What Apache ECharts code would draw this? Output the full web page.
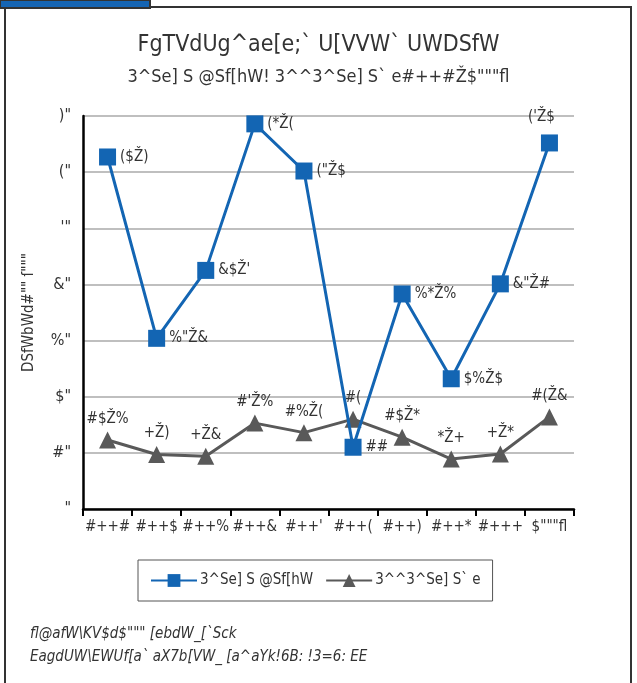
<!DOCTYPE html>
<html>
<head>
<meta charset="utf-8">
<script src="https://cdn.jsdelivr.net/npm/echarts@6/dist/echarts.min.js"></script>
<style>html,body{margin:0;padding:0;background:#fff}#c{width:637px;height:683px}</style>
</head>
<body>
<div id="c"></div>
<script>
// Data (text reproduced exactly as it appears in the reference glyph set)
var categories = ['1991','1992','1993','1994','1995','1996','1997','1998','1999','2000*'];
var alaskaNative = [62.7, 30.4, 42.5, 68.6, 60.2, 11, 38.3, 23.2, 40.1, 65.2];
var allAlaskans = [12.3, 9.7, 9.4, 15.3, 13.6, 16, 12.8, 8.9, 9.8, 16.4];
var yTicks = [0, 10, 20, 30, 40, 50, 60, 70];
var seriesNames = ['3^Se] S @Sf[hW', '3^^3^Se] S` e'];
var titleText = 'FgTVdUg^ae[e;` U[VVW` UWDSfW';
var subtitleText = '3^Se] S @Sf[hW! 3^^3^Se] S` e#++#Ž$"""fl';
var yAxisName = 'DSfWbWd#"" ſ"""';
var footLines = ['fl@afW\\KV$d$""" [ebdW_[`Sck', 'EagdUW\\EWUf[a` aX7b[VW_ [a^aYk!6B: !3=6: EE'];

// the reference font shows every digit 14 code points lower, '.' as 'Ž', '*' as 'fl'
function enc(s) {
  s = String(s);
  var out = '';
  for (var i = 0; i < s.length; i++) {
    var ch = s[i];
    if (ch >= '0' && ch <= '9') out += String.fromCharCode(ch.charCodeAt(0) - 14);
    else if (ch === '.') out += 'Ž';
    else if (ch === '*') out += 'fl';
    else out += ch;
  }
  return out;
}

var FONT = "'Liberation Sans Narrow', 'DejaVu Sans Condensed', 'Liberation Sans', sans-serif";
var BLUE = '#1365b3';
var GRAY = '#595959';

var chart = echarts.init(document.getElementById('c'), null, {renderer: 'canvas'});
chart.setOption({
  backgroundColor: '#fff',
  animation: false,
  textStyle: {fontFamily: FONT, color: '#333'},
  title: [
    {text: titleText, left: 'center', top: 29, textStyle: {fontFamily: FONT, fontSize: 23, fontWeight: 'normal', color: '#333'}},
    {text: subtitleText, left: 'center', top: 63, textStyle: {fontFamily: FONT, fontSize: 18, fontWeight: 'normal', color: '#333'}}
  ],
  graphic: [
    {type: 'rect', shape: {x: 5, y: 7, width: 626, height: 700}, style: {fill: 'none', stroke: '#333', lineWidth: 2}, z: 100},
    {type: 'rect', shape: {x: 0, y: 0, width: 150, height: 8}, style: {fill: '#1565b4', stroke: '#333', lineWidth: 2}, z: 101},
    {type: 'text', left: 30, top: 627, style: {text: footLines[0], font: 'italic 15px ' + FONT, fill: '#333'}},
    {type: 'text', left: 30, top: 650, style: {text: footLines[1], font: 'italic 15px ' + FONT, fill: '#333'}}
  ],
  legend: {
    data: seriesNames,
    orient: 'horizontal',
    left: 138, top: 560,
    padding: [13, 12, 13, 12],
    itemGap: 12,
    itemWidth: 46, itemHeight: 16,
    borderColor: '#555', borderWidth: 1,
    textStyle: {fontFamily: FONT, fontSize: 15, color: '#333', padding: [0, 0, 0, -2]}
  },
  grid: {left: 83, right: 63, top: 116, bottom: 174, containLabel: false},
  xAxis: {
    type: 'category',
    data: categories,
    boundaryGap: true,
    axisLine: {lineStyle: {color: '#000', width: 2.5}},
    axisTick: {show: true, length: 7, interval: 0, lineStyle: {color: '#000', width: 2}},
    axisLabel: {interval: 0, formatter: function (v) { return enc(v); }, fontSize: 15, color: '#333', margin: 11, fontFamily: FONT}
  },
  yAxis: {
    type: 'value',
    min: yTicks[0], max: yTicks[yTicks.length - 1], interval: 10,
    name: yAxisName, nameLocation: 'middle', nameGap: 46,
    nameTextStyle: {fontFamily: FONT, fontSize: 15, color: '#333'},
    axisLine: {show: true, lineStyle: {color: '#000', width: 2.5}},
    axisTick: {show: false},
    splitLine: {lineStyle: {color: '#aaa', width: 1.5}},
    axisLabel: {formatter: function (v) { return enc(v); }, fontSize: 16, color: '#333', margin: 12, fontFamily: FONT}
  },
  series: [
    {
      name: seriesNames[0], type: 'line', data: alaskaNative,
      symbol: 'rect', symbolSize: 17,
      lineStyle: {color: BLUE, width: 3}, itemStyle: {color: BLUE},
      label: {show: true, position: 'right', distance: 4, fontSize: 15, color: '#333', fontFamily: FONT,
        formatter: function (p) { return enc(p.value); }},
      labelLayout: function (p) { return p.dataIndex === 9 ? {dy: -26, dx: -34} : {}; },
      z: 3
    },
    {
      name: seriesNames[1], type: 'line', data: allAlaskans,
      symbol: 'triangle', symbolSize: 17,
      lineStyle: {color: GRAY, width: 3}, itemStyle: {color: GRAY},
      label: {show: true, position: 'top', distance: 5, fontSize: 15, color: '#333', fontFamily: FONT,
        formatter: function (p) { return enc(p.value); }},
      z: 2
    }
  ]
});
</script>
</body>
</html>
